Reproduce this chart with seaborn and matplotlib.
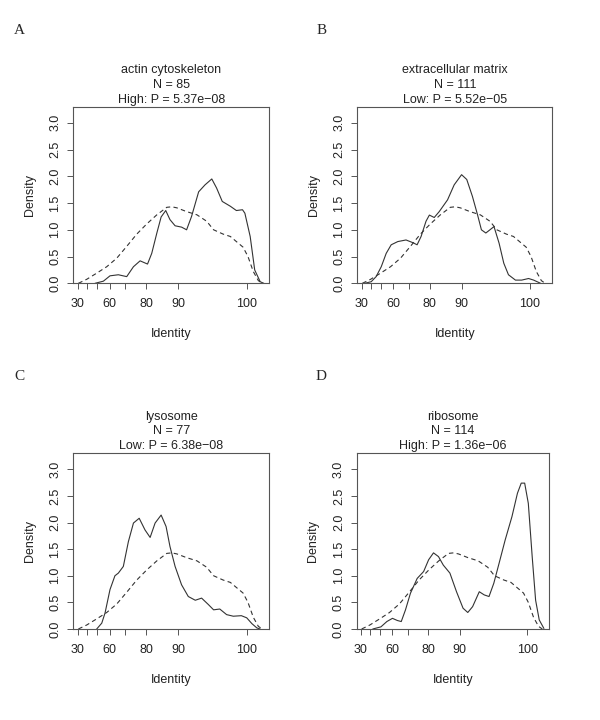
import numpy as np
import pandas as pd
import matplotlib
matplotlib.use("Agg")
import matplotlib.pyplot as plt
import seaborn as sns

# background density over all genes (dashed), same in every panel
bg_identity = [30.8, 40.1, 49.7, 57.9, 64.9, 70.8, 75.9, 80.2, 83.9, 87.0, 88.4, 89.7,
               91.9, 93.9, 95.5, 96.5, 97.7, 98.5, 99.1, 99.7, 100.1, 100.5, 100.85, 101.1]
bg_density = [0.0, 0.075, 0.19, 0.31, 0.47, 0.69, 0.92, 1.11, 1.28, 1.42, 1.43, 1.41,
              1.34, 1.28, 1.16, 1.0, 0.92, 0.875, 0.78, 0.675, 0.5, 0.22, 0.05, 0.0]

# A: actin cytoskeleton
actin_identity = [48.15, 55.3, 60.3, 65.9, 70.8, 74.3, 77.4, 80.5, 82.1, 83.9, 85.3, 86.7,
                  87.9, 89.25, 90.8, 91.9, 92.9, 94.2, 95.25, 96.25, 96.9, 97.6, 98.5, 99.1,
                  99.65, 99.85, 100.27, 100.6, 100.97, 101.2]
actin_density = [0.0, 0.04, 0.14, 0.16, 0.125, 0.31, 0.42, 0.36, 0.56, 0.94, 1.24, 1.36,
                 1.19, 1.075, 1.05, 1.0, 1.25, 1.71, 1.84, 1.95, 1.78, 1.53, 1.44, 1.36,
                 1.375, 1.31, 0.875, 0.25, 0.03, 0.0]

# B: extracellular matrix
ecm_identity = [33.5, 40.7, 45.6, 50.3, 54.5, 58.4, 63.1, 68.3, 72.1, 74.3, 76.2, 78.4,
                79.8, 81.7, 83.5, 86.2, 88.1, 90.0, 91.2, 92.4, 93.4, 94.1, 94.85, 95.5,
                96.1, 96.8, 97.4, 97.95, 98.7, 99.3, 99.9, 100.3, 100.8]
ecm_density = [0.0, 0.03, 0.125, 0.31, 0.56, 0.72, 0.78, 0.81, 0.76, 0.72, 0.875, 1.16,
               1.275, 1.23, 1.34, 1.56, 1.84, 2.03, 1.94, 1.625, 1.28, 1.0, 0.94, 1.0,
               1.06, 0.75, 0.375, 0.16, 0.06, 0.06, 0.09, 0.06, 0.0]

# C: lysosome
lyso_identity = [49.7, 54.0, 56.6, 60.3, 63.7, 65.9, 68.9, 71.7, 74.3, 77.0, 79.5, 81.5,
                 83.3, 85.3, 86.8, 87.9, 89.25, 90.8, 92.25, 93.6, 94.7, 95.75, 96.5, 97.3,
                 98.1, 98.8, 99.55, 100.0, 100.4, 100.75, 100.97]
lyso_density = [0.0, 0.11, 0.3, 0.74, 1.0, 1.05, 1.175, 1.64, 1.99, 2.08, 1.86, 1.72,
                1.99, 2.14, 1.925, 1.55, 1.175, 0.83, 0.61, 0.54, 0.58, 0.46, 0.36, 0.375,
                0.27, 0.24, 0.25, 0.21, 0.1, 0.02, 0.0]

# D: ribosome
ribo_identity = [43.1, 50.8, 55.8, 60.1, 63.5, 66.1, 68.7, 71.5, 75.0, 78.0, 80.1, 82.0,
                 83.8, 85.4, 87.4, 89.2, 90.8, 91.85, 92.85, 94.1, 94.95, 95.7, 96.4, 97.1,
                 97.85, 98.6, 99.15, 99.5, 99.8, 100.1, 100.4, 100.65, 100.9, 101.2]
ribo_density = [0.0, 0.04, 0.14, 0.2, 0.16, 0.14, 0.36, 0.67, 0.95, 1.08, 1.30, 1.43,
                1.36, 1.20, 1.05, 0.70, 0.39, 0.31, 0.42, 0.70, 0.64, 0.61, 0.86, 1.23,
                1.67, 2.11, 2.55, 2.74, 2.74, 2.36, 1.36, 0.54, 0.17, 0.01]

panel_letters = ["A", "B", "C", "D"]
panel_titles = [
    "actin cytoskeleton\nN = 85\nHigh: P = 5.37e\u221208",
    "extracellular matrix\nN = 111\nLow: P = 5.52e\u221205",
    "lysosome\nN = 77\nLow: P = 6.38e\u221208",
    "ribosome\nN = 114\nHigh: P = 1.36e\u221206",
]
x_ticks = [30, 40, 50, 60, 70, 80, 90, 100]
x_ticklabels = ["30", "", "", "60", "", "80", "90", "100"]
y_ticks = [0.0, 0.5, 1.0, 1.5, 2.0, 2.5, 3.0]

curves = [
    (actin_identity, actin_density),
    (ecm_identity, ecm_density),
    (lyso_identity, lyso_density),
    (ribo_identity, ribo_density),
]


def fwd(x):
    return -np.log(np.clip(105.0 - np.asarray(x, dtype=float), 1e-6, None))


def inv(t):
    return 105.0 - np.exp(-np.asarray(t, dtype=float))


sns.set_theme(style="white")
plt.rcParams["font.family"] = ["Liberation Sans", "DejaVu Sans"]
ink = "#333333"

fig = plt.figure(figsize=(6, 7.2), dpi=100)
# axes boxes in figure fractions (left, bottom, width, height)
boxes = [
    (0.1222, 0.6065, 0.3267, 0.2453),
    (0.5955, 0.6065, 0.3250, 0.2453),
    (0.1222, 0.1264, 0.3267, 0.2440),
    (0.5945, 0.1264, 0.3210, 0.2440),
]
letter_pos = [(0.033, 0.958), (0.536, 0.958), (0.033, 0.477), (0.535, 0.477)]

bg = pd.DataFrame({"identity": bg_identity, "density": bg_density})

for i, box in enumerate(boxes):
    ax = fig.add_axes(box)
    ax.set_xscale("function", functions=(fwd, inv))
    df = pd.DataFrame({"identity": curves[i][0], "density": curves[i][1]})
    sns.lineplot(data=bg, x="identity", y="density", ax=ax, color=ink,
                 lw=0.8, estimator=None, linestyle=(0, (4, 3)))
    sns.lineplot(data=df, x="identity", y="density", ax=ax, color=ink,
                 lw=0.8, estimator=None)
    ax.set_xlim(24.56, 101.52)
    ax.set_ylim(0, 3.3)
    ax.set_xticks(x_ticks)
    ax.set_xticklabels(x_ticklabels)
    ax.set_yticks(y_ticks)
    ax.set_yticklabels([f"{v:.1f}" for v in y_ticks], rotation=90, va="center")
    ax.tick_params(axis="both", which="major", bottom=True, left=True,
                   direction="out", length=4.5, width=0.7,
                   color="#555555", labelsize=9, labelcolor="#222222")
    ax.tick_params(axis="x", pad=6)
    ax.tick_params(axis="y", pad=4)
    for s in ax.spines.values():
        s.set_color("#555555")
        s.set_linewidth(0.8)
    ax.set_xlabel("Identity", fontsize=9, color="#222222", labelpad=13)
    ax.set_ylabel("Density", fontsize=9, color="#222222", labelpad=10)
    ax.set_title(panel_titles[i], fontsize=9, color="#222222", pad=3, linespacing=1.3)
    fig.text(letter_pos[i][0], letter_pos[i][1], panel_letters[i], fontsize=11,
             family=["Liberation Serif", "DejaVu Serif"], ha="center", va="center")

fig.savefig("out.png", dpi=100)
